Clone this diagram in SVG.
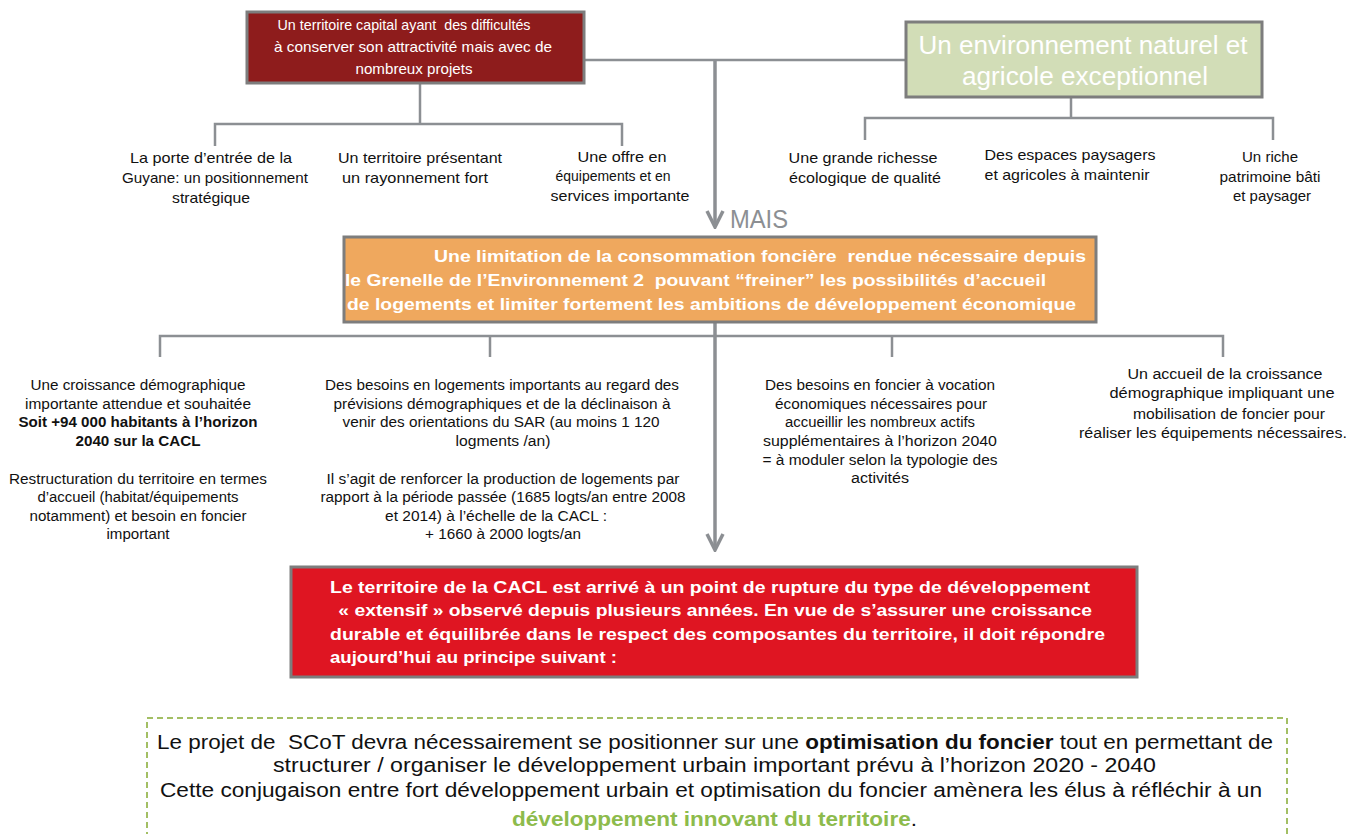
<svg xmlns="http://www.w3.org/2000/svg" width="1355" height="834" viewBox="0 0 1355 834">
<defs>
<style>
.t{font-family:"Liberation Sans Narrow","Arial Narrow","Liberation Sans",Arial,sans-serif;}
.w{fill:#fff;}
.k{fill:#111;}
.b{font-weight:bold;}
.c{text-anchor:middle;}
.ln{fill:none;stroke:#8c8f93;stroke-width:2.5;}
.ar{fill:none;stroke:#8c8f93;stroke-width:3.5;}
.box{stroke:#7d7d7d;stroke-width:3;}
</style>
<marker id="chev" markerWidth="20" markerHeight="20" refX="18" refY="10" orient="auto" markerUnits="userSpaceOnUse" viewBox="0 0 20 20">
<polyline points="2,2 18,10 2,18" fill="none" stroke="#8c8f93" stroke-width="3.5" stroke-linejoin="miter"/>
</marker>
</defs>
<rect width="1355" height="834" fill="#fff"/>

<g id="connectors">
<polyline class="ln" points="584,60 906,60"/>
<polyline class="ar" points="715,60 715,227" marker-end="url(#chev)"/>
<polyline class="ln" points="420,83 420,124"/>
<polyline class="ln" points="215,146 215,124 622,124 622,146"/>
<polyline class="ln" points="1071,97 1071,118"/>
<polyline class="ln" points="865,140 865,118 1273,118 1273,140"/>
<polyline class="ar" points="715,322 715,550" marker-end="url(#chev)"/>
<polyline class="ln" points="160,357 160,336 1223,336 1223,357"/>
<polyline class="ln" points="490,336 490,357"/>
<polyline class="ln" points="892,336 892,357"/>
</g>

<g id="n-capital">
<rect class="box" x="247" y="12" width="337" height="71" fill="#8e1c1c"/>
<text class="t w c" font-size="14.5" xml:space="preserve"><tspan x="404" y="30" textLength="253" lengthAdjust="spacingAndGlyphs">Un territoire capital ayant  des difficultés</tspan><tspan x="413" y="52" textLength="278" lengthAdjust="spacingAndGlyphs">à conserver son attractivité mais avec de</tspan><tspan x="414" y="74" textLength="117" lengthAdjust="spacingAndGlyphs">nombreux projets</tspan></text>
</g>

<g id="n-environnement">
<rect class="box" x="906" y="22" width="356" height="75" fill="#d2ddb7" stroke="#8a8a8a"/>
<text class="t w c" font-size="25"><tspan x="1083" y="54" textLength="329" lengthAdjust="spacingAndGlyphs">Un environnement naturel et</tspan><tspan x="1085" y="85" textLength="246" lengthAdjust="spacingAndGlyphs">agricole exceptionnel</tspan></text>
</g>

<g id="n-porte">
<text class="t k c" font-size="15"><tspan x="211" y="163" textLength="162" lengthAdjust="spacingAndGlyphs">La porte d’entrée de la</tspan><tspan x="215" y="183" textLength="186" lengthAdjust="spacingAndGlyphs">Guyane: un positionnement</tspan><tspan x="211" y="203" textLength="78" lengthAdjust="spacingAndGlyphs">stratégique</tspan></text>
</g>
<g id="n-rayonnement">
<text class="t k c" font-size="15"><tspan x="420" y="163" textLength="164" lengthAdjust="spacingAndGlyphs">Un territoire présentant</tspan><tspan x="415" y="183" textLength="146" lengthAdjust="spacingAndGlyphs">un rayonnement fort</tspan></text>
</g>
<g id="n-offre">
<text class="t k c" font-size="15"><tspan x="622" y="162" textLength="89" lengthAdjust="spacingAndGlyphs">Une offre en</tspan><tspan x="613" y="181" textLength="115" lengthAdjust="spacingAndGlyphs">équipements et en</tspan><tspan x="620" y="201" textLength="139" lengthAdjust="spacingAndGlyphs">services importante</tspan></text>
</g>

<g id="n-mais">
<text class="t" x="730" y="228" font-size="25" fill="#8c8f93" textLength="58" lengthAdjust="spacingAndGlyphs">MAIS</text>
</g>

<g id="n-richesse">
<text class="t k c" font-size="15"><tspan x="863" y="163" textLength="149" lengthAdjust="spacingAndGlyphs">Une grande richesse</tspan><tspan x="865" y="183" textLength="152" lengthAdjust="spacingAndGlyphs">écologique de qualité</tspan></text>
</g>
<g id="n-espaces">
<text class="t k c" font-size="15"><tspan x="1070" y="160" textLength="171" lengthAdjust="spacingAndGlyphs">Des espaces paysagers</tspan><tspan x="1067" y="180" textLength="165" lengthAdjust="spacingAndGlyphs">et agricoles à maintenir</tspan></text>
</g>
<g id="n-patrimoine">
<text class="t k c" font-size="15"><tspan x="1270" y="162" textLength="56" lengthAdjust="spacingAndGlyphs">Un riche</tspan><tspan x="1270" y="182" textLength="101" lengthAdjust="spacingAndGlyphs">patrimoine bâti</tspan><tspan x="1272" y="201" textLength="78" lengthAdjust="spacingAndGlyphs">et paysager</tspan></text>
</g>

<g id="n-limitation">
<rect class="box" x="344" y="237" width="752" height="85" fill="#efa85e" stroke="#6f6f6f"/>
<text class="t w b" font-size="16.5" xml:space="preserve"><tspan x="434" y="262" textLength="652" lengthAdjust="spacingAndGlyphs">Une limitation de la consommation foncière  rendue nécessaire depuis</tspan><tspan x="345" y="286" textLength="701" lengthAdjust="spacingAndGlyphs">le Grenelle de l’Environnement 2  pouvant “freiner” les possibilités d’accueil</tspan><tspan x="347" y="310" textLength="729" lengthAdjust="spacingAndGlyphs">de logements et limiter fortement les ambitions de développement économique</tspan></text>
</g>

<g id="n-croissance">
<text class="t k c" font-size="14"><tspan x="138" y="390" textLength="215" lengthAdjust="spacingAndGlyphs">Une croissance démographique</tspan><tspan x="138" y="409" textLength="226" lengthAdjust="spacingAndGlyphs">importante attendue et souhaitée</tspan><tspan x="138" y="427" class="b" textLength="239" lengthAdjust="spacingAndGlyphs">Soit +94 000 habitants à l’horizon</tspan><tspan x="138" y="446" class="b" textLength="125" lengthAdjust="spacingAndGlyphs">2040 sur la CACL</tspan><tspan x="138" y="484" textLength="258" lengthAdjust="spacingAndGlyphs">Restructuration du territoire en termes</tspan><tspan x="138" y="502" textLength="201" lengthAdjust="spacingAndGlyphs">d’accueil (habitat/équipements</tspan><tspan x="138" y="521" textLength="217" lengthAdjust="spacingAndGlyphs">notamment) et besoin en foncier</tspan><tspan x="138" y="539" textLength="63" lengthAdjust="spacingAndGlyphs">important</tspan></text>
</g>

<g id="n-logements">
<text class="t k c" font-size="14"><tspan x="502" y="390" textLength="354" lengthAdjust="spacingAndGlyphs">Des besoins en logements importants au regard des</tspan><tspan x="502" y="409" textLength="337" lengthAdjust="spacingAndGlyphs">prévisions démographiques et de la déclinaison à</tspan><tspan x="501" y="427" textLength="317" lengthAdjust="spacingAndGlyphs">venir des orientations du SAR (au moins 1 120</tspan><tspan x="503" y="446" textLength="95" lengthAdjust="spacingAndGlyphs">logments /an)</tspan><tspan x="503" y="484" textLength="353" lengthAdjust="spacingAndGlyphs">Il s’agit de renforcer la production de logements par</tspan><tspan x="503" y="502" textLength="365" lengthAdjust="spacingAndGlyphs">rapport à la période passée (1685 logts/an entre 2008</tspan><tspan x="496" y="521" textLength="222" lengthAdjust="spacingAndGlyphs">et 2014) à l’échelle de la CACL :</tspan><tspan x="503" y="539" textLength="156" lengthAdjust="spacingAndGlyphs">+ 1660 à 2000 logts/an</tspan></text>
</g>

<g id="n-foncier">
<text class="t k c" font-size="14"><tspan x="880" y="390" textLength="230" lengthAdjust="spacingAndGlyphs">Des besoins en foncier à vocation</tspan><tspan x="881" y="409" textLength="212" lengthAdjust="spacingAndGlyphs">économiques nécessaires pour</tspan><tspan x="880" y="427" textLength="190" lengthAdjust="spacingAndGlyphs">accueillir les nombreux actifs</tspan><tspan x="880" y="446" textLength="234" lengthAdjust="spacingAndGlyphs">supplémentaires à l’horizon 2040</tspan><tspan x="880" y="465" textLength="235" lengthAdjust="spacingAndGlyphs">= à moduler selon la typologie des</tspan><tspan x="880" y="483" textLength="58" lengthAdjust="spacingAndGlyphs">activités</tspan></text>
</g>

<g id="n-accueil">
<text class="t k c" font-size="14"><tspan x="1225" y="379" textLength="195" lengthAdjust="spacingAndGlyphs">Un accueil de la croissance</tspan><tspan x="1222" y="398" textLength="225" lengthAdjust="spacingAndGlyphs">démographique impliquant une</tspan><tspan x="1229" y="419" textLength="192" lengthAdjust="spacingAndGlyphs">mobilisation de foncier pour</tspan><tspan x="1213" y="438" textLength="268" lengthAdjust="spacingAndGlyphs">réaliser les équipements nécessaires.</tspan></text>
</g>

<g id="n-rupture">
<rect class="box" x="291" y="567" width="846" height="110" fill="#df1522" stroke="#8a8a8a"/>
<text class="t w b" font-size="17" xml:space="preserve"><tspan x="330" y="593" textLength="760" lengthAdjust="spacingAndGlyphs">Le territoire de la CACL est arrivé à un point de rupture du type de développement</tspan><tspan x="333" y="616" textLength="759" lengthAdjust="spacingAndGlyphs"> « extensif » observé depuis plusieurs années. En vue de s’assurer une croissance</tspan><tspan x="330" y="640" textLength="775" lengthAdjust="spacingAndGlyphs">durable et équilibrée dans le respect des composantes du territoire, il doit répondre</tspan><tspan x="330" y="663" textLength="287" lengthAdjust="spacingAndGlyphs">aujourd’hui au principe suivant :</tspan></text>
</g>

<g id="n-principe">
<rect x="147" y="718" width="1140" height="130" fill="none" stroke="#a3bf64" stroke-width="2" stroke-dasharray="6 4"/>
<text class="t k" font-size="20" xml:space="preserve"><tspan x="157" y="749" textLength="1116" lengthAdjust="spacingAndGlyphs">Le projet de  SCoT devra nécessairement se positionner sur une <tspan class="b">optimisation du foncier</tspan> tout en permettant de</tspan></text>
<text class="t k" font-size="20" x="273" y="772" textLength="883" lengthAdjust="spacingAndGlyphs">structurer / organiser le développement urbain important prévu à l’horizon 2020 - 2040</text>
<text class="t k" font-size="20" x="160" y="797" textLength="1102" lengthAdjust="spacingAndGlyphs">Cette conjugaison entre fort développement urbain et optimisation du foncier amènera les élus à réfléchir à un</text>
<text class="t k" font-size="20" x="512" y="826" textLength="405" lengthAdjust="spacingAndGlyphs"><tspan class="b" fill="#8dbb4c">développement innovant du territoire</tspan>.</text>
</g>
</svg>
